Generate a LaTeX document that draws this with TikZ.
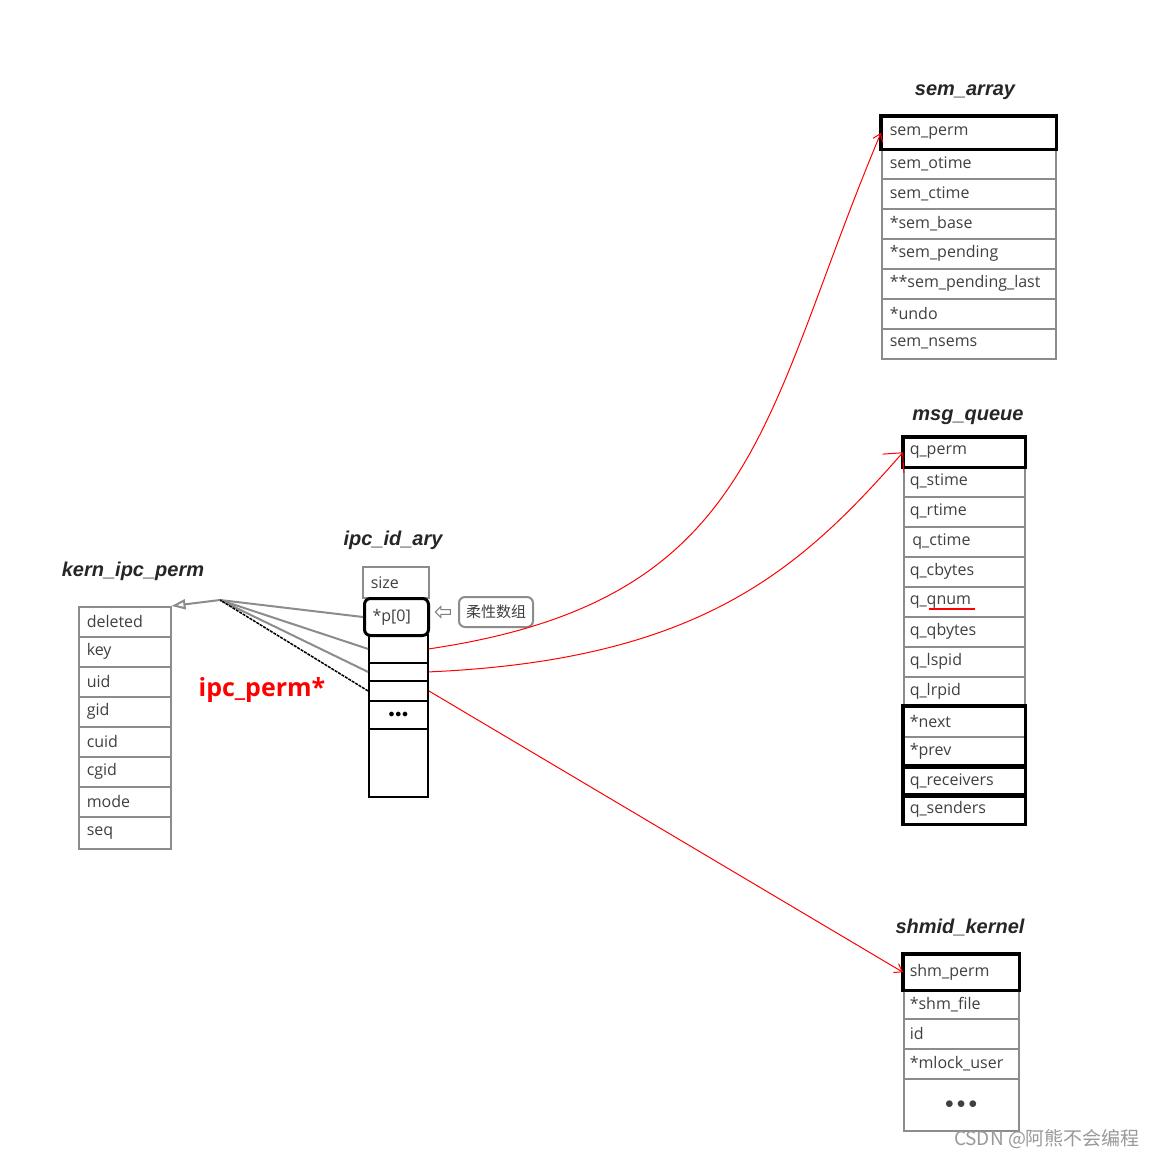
\documentclass[tikz,border=0pt]{standalone}
\usepackage{fontspec}
\setmainfont{Open Sans}
\newfontfamily\titlefont{Liberation Sans}
\newfontfamily\cjkfont{Noto Sans CJK SC}
\usetikzlibrary{arrows.meta,shapes.arrows}
\begin{document}
\begin{tikzpicture}[x=1pt,y=-1pt,
  cell/.style={draw=black!45, line width=1.5pt, anchor=north west, minimum height=30pt,
    inner ysep=0pt, align=left, font=\fontsize{16}{18}\selectfont, text=black!75},
  kcell/.style={cell, inner xsep=8pt, text width=76pt},
  scell/.style={cell, inner xsep=8pt, text width=158pt},
  mcell/.style={cell, inner xsep=6pt, text width=109pt},
  hcell/.style={cell, inner xsep=6pt, text width=103pt},
  icell/.style={draw=black, line width=1.8pt, anchor=north west, minimum width=59pt,
    inner sep=0pt, font=\fontsize{12}{14}\selectfont\bfseries},
  heavy/.style={draw=black, line width=3.5pt},
  title/.style={font=\titlefont\bfseries\itshape\fontsize{20}{22}\selectfont, text=black!85},
  redarrow/.style={draw=red, line width=1pt, -{Straight Barb[angle=70:9pt]}},
  toperm/.style={draw=black!45, line width=2pt},
]
\fill[white] (0,0) rectangle (1158,1159);
\useasboundingbox (0,0) rectangle (1158,1159);

% ---------- kern_ipc_perm ----------
\node[title] (tkern) at (133,571) {kern\_ipc\_perm};
\node[kcell] (kdel) at (78,606) {deleted};
\node[kcell] (kkey) at (78,636) {key};
\node[kcell] (kuid) at (78,666) {uid};
\node[kcell] (kgid) at (78,696) {gid};
\node[kcell] (kcuid) at (78,726) {cuid};
\node[kcell] (kcgid) at (78,756) {cgid};
\node[kcell] (kmode) at (78,786) {mode};
\node[kcell, minimum height=32pt] (kseq) at (78,816) {seq};

% ---------- ipc_id_ary ----------
\node[title] (tary) at (393,540) {ipc\_id\_ary};
\node[cell, inner xsep=8pt, text width=50pt, minimum height=31pt] (isize) at (362,566) {size};
\node[icell, line width=3pt, rounded corners=6pt, minimum width=64pt, minimum height=37pt,
  inner xsep=8pt, text width=48pt, align=left, font=\fontsize{16}{18}\selectfont, text=black!75] (ip0) at (363,597) {*p[0]};
\node[icell, minimum height=28pt] (ic1) at (368,634) {};
\node[icell, minimum height=18pt] (ic2) at (368,662) {};
\node[icell, minimum height=20pt] (ic3) at (368,680) {};
\node[icell, minimum height=28pt] (icdots) at (368,700) {$\bullet\!\bullet\!\bullet$};
\node[icell, minimum height=68pt] (iclast) at (368,728) {};

\node[draw=black!45, line width=2pt, rounded corners=6pt, minimum width=74pt, minimum height=30pt,
  inner sep=0pt, font=\cjkfont\fontsize{15}{17}\selectfont, text=black!75] (flex) at (496,612) {柔性数组};
\node[single arrow, draw=black!50, line width=1pt, shape border rotate=180, minimum height=15pt,
  minimum width=11pt, single arrow head extend=2pt, inner sep=1pt] (harrow) at (444,612) {};

\node[font=\bfseries\fontsize{25}{28}\selectfont, text=red] (ipcperm) at (262,690) {ipc\_perm*};

% connectors to kern_ipc_perm
\coordinate (kp) at (220,600);
\draw[toperm] (ip0.west) -- (kp);
\draw[toperm] (ic1.west) -- (kp);
\draw[toperm] (ic2.west) -- (kp);
\draw[black, line width=1.5pt, dashed, dash pattern=on 3pt off 1pt] (ic3.west) -- (kp);
\draw[toperm, -{Triangle[open, length=14pt, width=10pt]}] (kp) -- (kdel.north east);

% ---------- sem_array ----------
\node[title] (tsem) at (965,92) {sem\_array};
\node[scell, minimum height=32pt] (semperm) at (881,116) {sem\_perm};
\node[scell] (semo) at (881,148) {sem\_otime};
\node[scell] (semc) at (881,178) {sem\_ctime};
\node[scell] (semb) at (881,208) {*sem\_base};
\node[scell] (semp) at (881,238) {*sem\_pending};
\node[scell] (sempl) at (881,268) {**sem\_pending\_last};
\node[scell] (semu) at (881,298) {*undo};
\node[scell] (semn) at (881,328) {sem\_nsems};
\draw[heavy] (semperm.north west) rectangle (semperm.south east);

% ---------- msg_queue ----------
\node[title] (tmsg) at (968,417) {msg\_queue};
\node[mcell, minimum height=29pt] (mqperm) at (903,437) {q\_perm};
\node[mcell] (mst) at (903,466) {q\_stime};
\node[mcell] (mrt) at (903,496) {q\_rtime};
\node[mcell] (mct) at (903,526) {\,q\_ctime};
\node[mcell] (mcb) at (903,556) {q\_cbytes};
\node[mcell] (mqnum) at (903,586) {q\_qnum};
\node[mcell] (mqb) at (903,616) {q\_qbytes};
\node[mcell] (mls) at (903,646) {q\_lspid};
\node[mcell] (mlr) at (903,676) {q\_lrpid};
\node[mcell] (mnext) at (903,706) {*next};
\node[mcell] (mprev) at (903,736) {*prev};
\node[mcell, minimum height=29pt] (mrecv) at (903,766) {q\_receivers};
\node[mcell, minimum height=28pt] (msend) at (903,795) {q\_senders};
\draw[heavy] (mqperm.north west) rectangle (mqperm.south east);
\draw[heavy] (mnext.north west) rectangle (mprev.south east);
\draw[heavy] (mrecv.north west) rectangle (mrecv.south east);
\draw[heavy] (msend.north west) rectangle (msend.south east);
\draw[red, line width=1.8pt] (929,609) -- (975,609);

% ---------- shmid_kernel ----------
\node[title] (tshm) at (960,927) {shmid\_kernel};
\node[hcell, minimum height=35pt] (shmperm) at (903,954) {shm\_perm};
\node[hcell, minimum height=29pt] (shmf) at (903,989) {*shm\_file};
\node[hcell] (shmid) at (903,1018) {id};
\node[hcell] (shmml) at (903,1048) {*mlock\_user};
\node[hcell, minimum height=52pt, align=center] (shmdots) at (903,1078) {$\bullet\!\bullet\!\bullet$};
\draw[heavy] (shmperm.north west) rectangle (shmperm.south east);

% ---------- red pointers ----------
\draw[redarrow] (ic1.east) .. controls (760,600) and (760,420) .. (semperm.west);
\draw[redarrow, -{Straight Barb[angle=90:20pt]}] (ic2.east) .. controls (700,660) and (800,570) .. (mqperm.west);
\draw[redarrow] (ic3.east) -- (shmperm.west);

% watermark
\node[font=\cjkfont\fontsize{19}{21}\selectfont, text=black!40] (wm) at (1047,1139) {CSDN @阿熊不会编程};
\end{tikzpicture}
\end{document}
